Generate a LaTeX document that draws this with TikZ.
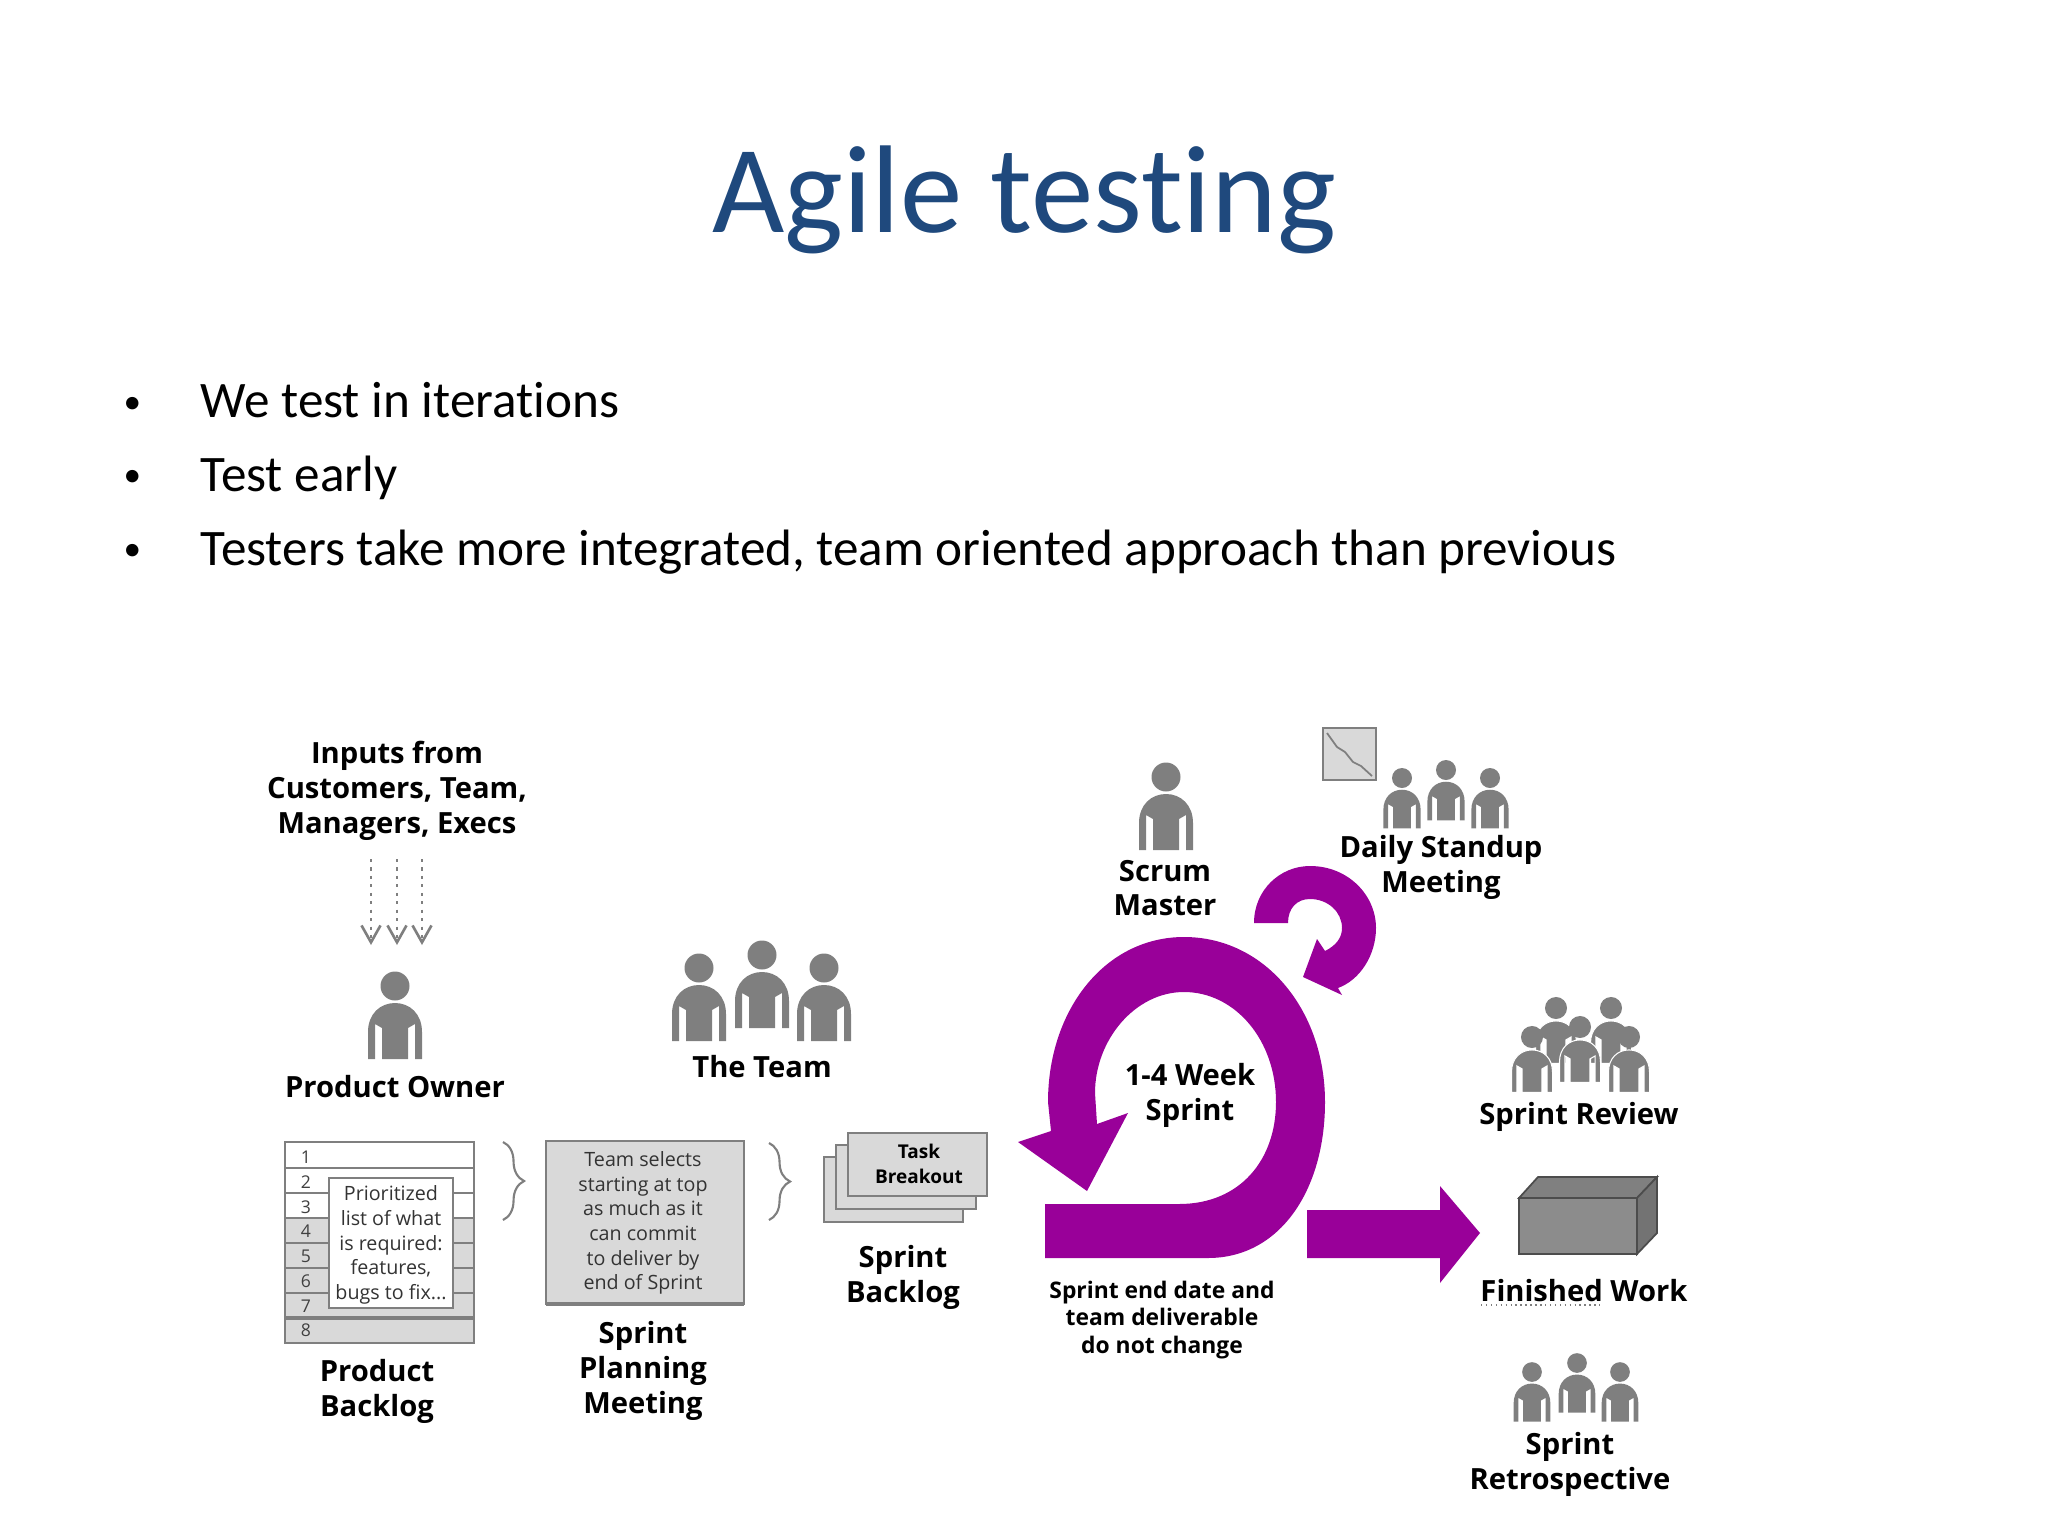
\documentclass[tikz,border=0pt]{standalone}
\usepackage{fontspec}
\setmainfont{Carlito}[Ligatures=NoCommon]
\newfontfamily\figfont{Open Sans}
\usepackage{tikz}
\usetikzlibrary{arrows.meta}
\usetikzlibrary{decorations.pathreplacing}
\definecolor{titleblue}{HTML}{1F497D}
\definecolor{sprintpurple}{HTML}{990099}
\definecolor{figgrey}{HTML}{7F7F7F}
\definecolor{boxgrey}{HTML}{D9D9D9}
\begin{document}
\begin{tikzpicture}[>=latex,x=0.01cm,y=-0.01cm,
        titletext/.style={font=\fontsize{35.5}{40}\selectfont,text=titleblue,anchor=base},
        bullettext/.style={font=\fontsize{14.55}{16}\selectfont,anchor=base west,inner sep=0pt},
        dotmark/.style={font=\fontsize{10}{12}\selectfont,anchor=base west,inner sep=0pt},
        lbl/.style={font=\figfont\bfseries\fontsize{8.3}{9.9}\selectfont,align=center,inner sep=0pt},
        noteline/.style={font=\figfont\bfseries\fontsize{6.5}{7.7}\selectfont,align=center,inner sep=0pt},
        smalllbl/.style={font=\figfont\fontsize{5.6}{7}\selectfont,align=center,inner sep=0pt,text=black!80},
        tasklbl/.style={font=\figfont\bfseries\fontsize{5.4}{7}\selectfont,align=center,inner sep=0pt},
        rownum/.style={font=\figfont\fontsize{5}{6}\selectfont,inner sep=0pt,text=black!75},
        rowline/.style={draw=figgrey,line width=0.7pt},
        sheet/.style={draw=figgrey,fill=boxgrey,line width=0.7pt},
        inarrow/.style={draw=figgrey,line width=0.75pt,dash pattern=on 0.9pt off 1.5pt,-{Straight Barb[length=4.8pt,width=5.4pt]}},
        brc/.style={draw=figgrey,line width=0.6pt,decorate,decoration={brace,amplitude=6pt}},
        person/.pic={
            \fill[figgrey](0,0)circle[radius=14.5];
            \fill[figgrey](-27,73)--(-27,46)..controls(-27,28)and(-15,17)..(0,17)..controls(15,17)and(27,28)..(27,46)--(27,73)--(20,73)--(20,38)--(13,42)--(13,73)--(-13,73)--(-13,42)--(-20,38)--(-20,73)--cycle;
        },
        crowdman/.pic={
            \fill[figgrey](0,0)circle[radius=14.5];
            \fill[figgrey,draw=white,line width=0.3pt](-27,73)--(-27,46)..controls(-27,28)and(-15,17)..(0,17)..controls(15,17)and(27,28)..(27,46)--(27,73)--(20,73)--(20,38)--(13,42)--(13,73)--(-13,73)--(-13,42)--(-20,38)--(-20,73)--cycle;
        }]
        \useasboundingbox(0,0)rectangle(2048,1536);
        \node[titletext](title)at(1024,232){Agile testing};
        \node[dotmark](dota)at(123,413){•};
        \node[dotmark](dotb)at(123,486){•};
        \node[dotmark](dotc)at(123,560){•};
        \node[bullettext](bula)at(200,417){We test in iterations};
        \node[bullettext](bulb)at(200,491){Test early};
        \node[bullettext](bulc)at(200,565){Testers take more integrated, team oriented approach than previous};

        \node[lbl](inputs)at(397,791){Inputs from\\Customers, Team,\\Managers, Execs};
        \coordinate(ina)at(371,859);
        \coordinate(inb)at(397,859);
        \coordinate(inc)at(422,859);
        \coordinate(outa)at(371,945);
        \coordinate(outb)at(397,945);
        \coordinate(outc)at(422,945);
        \draw[inarrow](ina)--(outa);
        \draw[inarrow](inb)--(outb);
        \draw[inarrow](inc)--(outc);
        \pic at(395,986){person};
        \node[lbl](owner)at(395,1087){Product Owner};

        \pic at(699,968){person};
        \pic at(762,955){person};
        \pic at(824,968){person};
        \node[lbl](team)at(762,1067){The Team};

        \fill[boxgrey](285,1218)rectangle(474,1343);
        \draw[rowline](285,1142)rectangle(474,1343);
        \draw[rowline](285,1168)--(474,1168);
        \draw[rowline](285,1193)--(474,1193);
        \draw[rowline](285,1218)--(474,1218);
        \draw[rowline](285,1243)--(474,1243);
        \draw[rowline](285,1268)--(474,1268);
        \draw[rowline](285,1293)--(474,1293);
        \draw[rowline,line width=1pt](285,1318)--(474,1318);
        \node[rownum](ra)at(306,1157){1};
        \node[rownum](rb)at(306,1182){2};
        \node[rownum](rc)at(306,1207){3};
        \node[rownum](rd)at(306,1231){4};
        \node[rownum](re)at(306,1256){5};
        \node[rownum](rf)at(306,1281){6};
        \node[rownum](rg)at(306,1306){7};
        \node[rownum](rh)at(306,1330){8};
        \draw[rowline,fill=white,line width=0.5pt](329,1178)rectangle(453,1308);
        \node[smalllbl](prio)at(391,1245){Prioritized\\list of what\\is required:\\features,\\bugs to fix...};
        \node[lbl](prodback)at(377,1391){Product\\Backlog};

        \coordinate(bracea)at(503,1142);
        \coordinate(braceb)at(503,1220);
        \draw[brc](bracea)--(braceb);

        \draw[sheet](546,1141)rectangle(744,1304);
        \draw[rowline,line width=1.1pt](546,1304)--(744,1304);
        \node[smalllbl](selects)at(643,1223){Team selects\\starting at top\\as much as it\\can commit\\to deliver by\\end of Sprint};
        \node[lbl](planning)at(643,1371){Sprint\\Planning\\Meeting};

        \coordinate(bracec)at(769,1143);
        \coordinate(braced)at(769,1220);
        \draw[brc](bracec)--(braced);

        \draw[sheet](824,1157)rectangle(963,1222);
        \draw[sheet](836,1145)rectangle(976,1209);
        \draw[sheet](848,1133)rectangle(987,1196);
        \node[tasklbl](task)at(919,1164){Task\\Breakout};
        \node[lbl](sprintback)at(903,1277){Sprint\\Backlog};

        \fill[sprintpurple](1045,1258)--(1208,1258)..controls(1280,1258)and(1325,1190)..(1325,1102)..controls(1325,1010)and(1265,937)..(1184,937)..controls(1105,937)and(1048,1010)..(1048,1102)--(1051,1131)--(1018,1142)--(1087,1191)--(1128,1113)--(1097,1124)--(1095,1093)..controls(1095,1040)and(1135,992)..(1184,992)..controls(1235,992)and(1276,1040)..(1276,1102)..controls(1276,1160)and(1240,1204)..(1179,1204)--(1045,1204)--cycle;
        \node[lbl](weeks)at(1190,1095){1-4 Week\\Sprint};
        \node[noteline](enddate)at(1162,1320){Sprint end date and\\team deliverable\\do not change};

        \fill[sprintpurple](1254,923)..controls(1254,890)and(1280,866)..(1310,866)..controls(1348,866)and(1376,895)..(1376,928)..controls(1376,955)and(1360,980)..(1338,988)--(1342,995)--(1303,977)--(1317,939)--(1325,951)..controls(1337,945)and(1342,937)..(1342,928)..controls(1342,912)and(1328,899)..(1310,899)..controls(1297,899)and(1288,908)..(1288,923)--cycle;

        \pic at(1166,777){person};
        \node[lbl](scrum)at(1165,888){Scrum\\Master};
        \draw[sheet](1323,728)rectangle(1376,780);
        \draw[figgrey,line width=0.5pt](1327,733)--(1337,747)--(1345,752)--(1353,762)--(1361,766)--(1372,776);
        \pic[scale=0.69] at(1402,778){person};
        \pic[scale=0.69] at(1446,770){person};
        \pic[scale=0.69] at(1490,778){person};
        \node[lbl](standup)at(1441,867){Daily Standup\\Meeting};

        \pic[scale=0.76] at(1556,1008){crowdman};
        \pic[scale=0.76] at(1611,1008){crowdman};
        \pic[scale=0.76] at(1580,1027){crowdman};
        \pic[scale=0.76] at(1532,1037){crowdman};
        \pic[scale=0.76] at(1629,1037){crowdman};
        \node[lbl](review)at(1579,1117){Sprint Review};

        \fill[sprintpurple](1307,1210)--(1440,1210)--(1440,1186)--(1480,1233)--(1440,1283)--(1440,1258)--(1307,1258)--cycle;

        \draw[black!70,fill=black!50,line width=0.5pt](1519,1198)--(1538,1177)--(1657,1177)--(1637,1198)--cycle;
        \draw[black!70,fill=black!55,line width=0.5pt](1637,1198)--(1657,1177)--(1657,1233)--(1637,1254)--cycle;
        \draw[black!70,fill=black!45,line width=0.7pt](1519,1198)rectangle(1637,1254);
        \node[lbl](finished)at(1584,1291){Finished Work};
        \draw[figgrey,line width=0.4pt,densely dotted](1481,1305)--(1600,1305);

        \pic[scale=0.68] at(1532,1372){person};
        \pic[scale=0.68] at(1577,1363){person};
        \pic[scale=0.68] at(1620,1372){person};
        \node[lbl](retro)at(1570,1464){Sprint\\Retrospective};
    \end{tikzpicture}
\end{document}
